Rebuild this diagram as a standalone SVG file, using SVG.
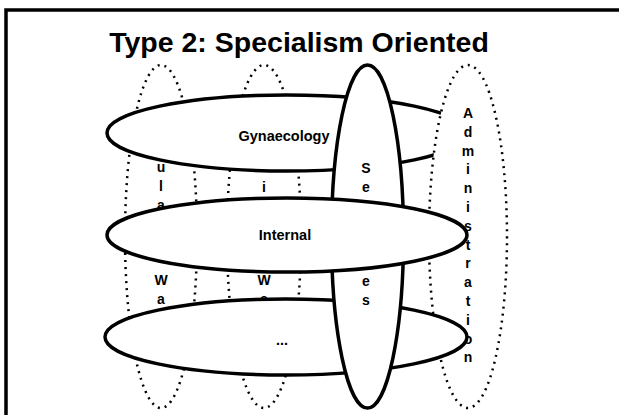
<svg xmlns="http://www.w3.org/2000/svg" width="619" height="415" viewBox="0 0 619 415">
<style>
.frame{fill:none;stroke:#000;stroke-width:3.5}
.solid{fill:#fff;stroke:#000;stroke-width:3.5}
.dotted{fill:#fff;stroke:#000;stroke-width:2.5;stroke-dasharray:2 5}
.t{font-family:"Liberation Sans",Arial,sans-serif;font-weight:bold;fill:#000;text-anchor:middle}
.v{font-size:14px}
.h{font-size:14.5px}
.title{font-size:28.5px}
</style>
<rect width="619" height="415" fill="#fff"/>
<rect class="frame" x="6" y="10" width="700" height="500"/>
<text class="t title" x="299" y="52">Type 2: Specialism Oriented</text>
<g id="ward1">
<ellipse class="dotted" cx="161" cy="236.5" rx="36" ry="171.5"/>
<text class="t v"><tspan x="161" y="172">u</tspan><tspan x="161" y="191">l</tspan><tspan x="161" y="210">a</tspan><tspan x="161" y="285">W</tspan><tspan x="161" y="304">a</tspan></text>
</g>
<g id="ward2">
<ellipse class="dotted" cx="264" cy="236.5" rx="37" ry="171.5"/>
<text class="t v"><tspan x="264" y="192">i</tspan><tspan x="264" y="285">W</tspan><tspan x="264" y="304">e</tspan></text>
</g>
<g id="gynaecology">
<ellipse class="solid" cx="287" cy="133" rx="180" ry="38"/>
<text class="t h" x="284" y="141">Gynaecology</text>
</g>
<g id="administration">
<ellipse class="dotted" cx="468" cy="236.5" rx="39" ry="171.5"/>
<text class="t v"><tspan x="468" y="118">A</tspan><tspan x="468" y="136.8">d</tspan><tspan x="468" y="155.6">m</tspan><tspan x="468" y="174.4">i</tspan><tspan x="468" y="193.2">n</tspan><tspan x="468" y="212">i</tspan><tspan x="468" y="230.8">s</tspan><tspan x="468" y="249.6">t</tspan><tspan x="468" y="268.4">r</tspan><tspan x="468" y="287.2">a</tspan><tspan x="468" y="306">t</tspan><tspan x="468" y="324.8">i</tspan><tspan x="468" y="343.6">o</tspan><tspan x="468" y="362.4">n</tspan></text>
</g>
<g id="other">
<ellipse class="solid" cx="286" cy="337" rx="181" ry="38"/>
<text class="t h" x="282" y="345">...</text>
</g>
<g id="services">
<ellipse class="solid" cx="367.5" cy="236.5" rx="36" ry="171.5"/>
<text class="t v"><tspan x="366" y="173">S</tspan><tspan x="366" y="192">e</tspan><tspan x="366" y="210.6">r</tspan><tspan x="366" y="229.4">v</tspan><tspan x="366" y="248.2">i</tspan><tspan x="366" y="267">c</tspan><tspan x="366" y="286">e</tspan><tspan x="366" y="304.6">s</tspan></text>
</g>
<g id="internal">
<ellipse class="solid" cx="287" cy="235" rx="180" ry="37"/>
<text class="t h" x="285" y="240">Internal</text>
</g>
<g id="connectors"/>
</svg>
